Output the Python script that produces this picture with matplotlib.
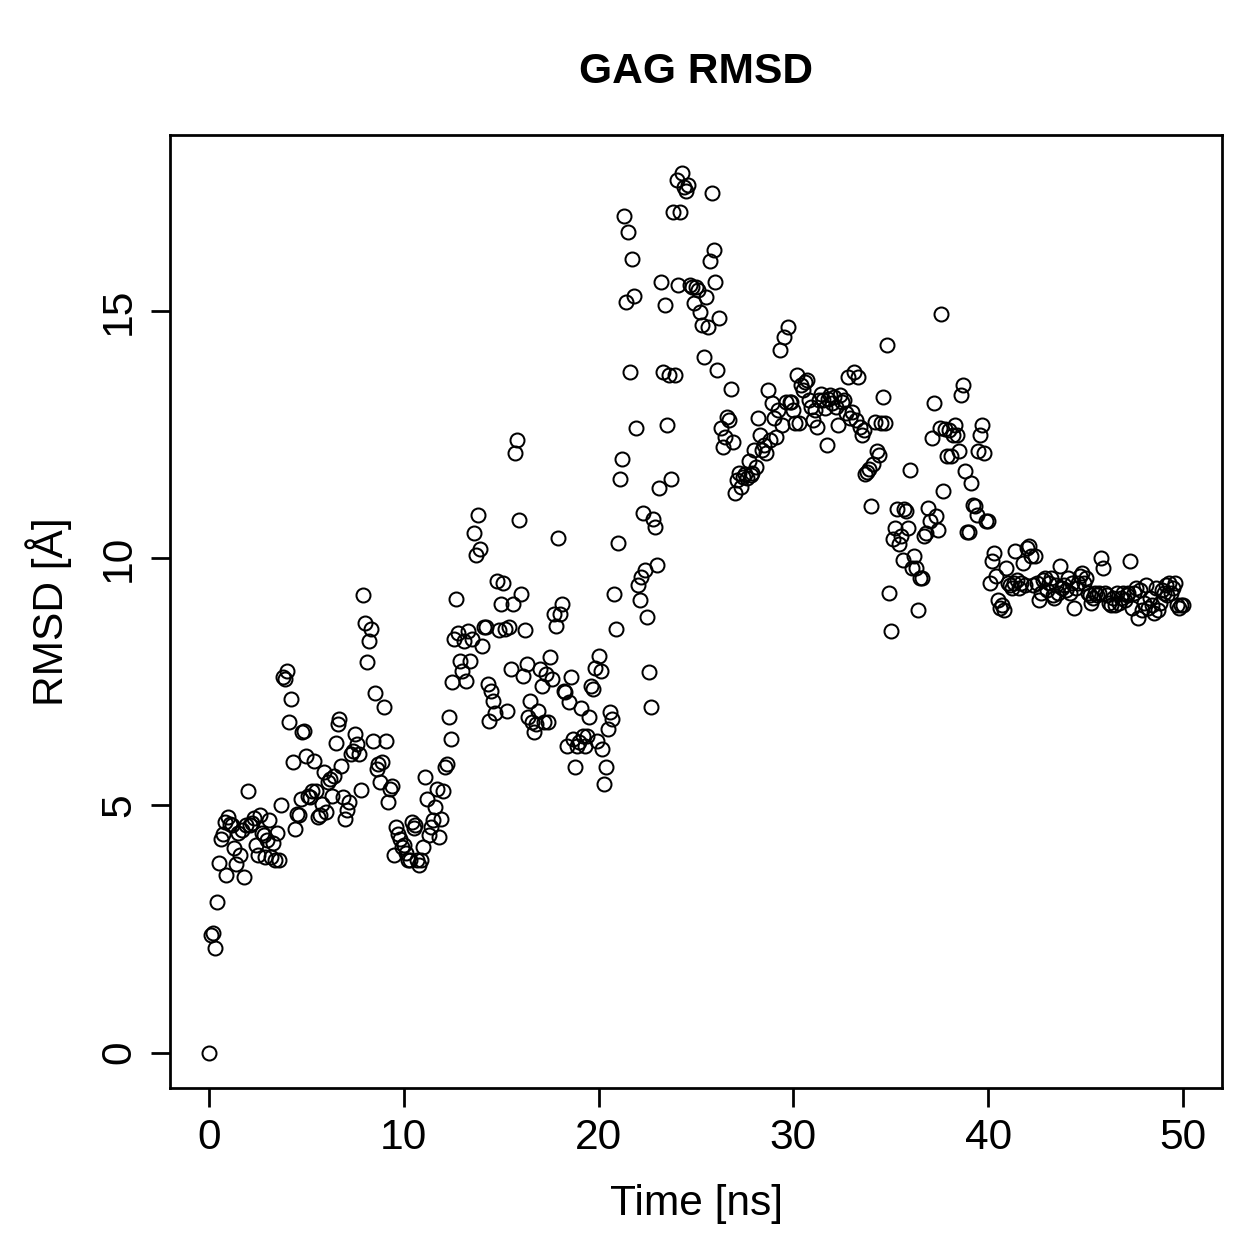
import matplotlib
matplotlib.use("Agg")
import matplotlib.pyplot as plt
import numpy as np

plt.rcParams['font.family'] = ['Liberation Sans', 'DejaVu Sans']

# RMSD values (Å), one every 0.1 ns
rmsd_00_05 = [0.00, 2.38, 2.42, 2.12, 3.05, 3.84, 4.33, 4.43, 4.66, 3.59,
              4.76, 4.63, 4.60, 4.13, 3.82, 4.45, 3.99, 4.50, 3.55, 4.60,
              5.30, 4.60, 4.65, 4.75, 4.20, 4.00, 4.80, 4.45, 4.40, 3.95,
              4.30, 4.70, 3.95, 4.25, 3.90, 4.45, 3.90, 5.00, 7.59, 7.56,
              7.72, 6.68, 7.15, 5.87, 4.53, 4.83, 4.80, 5.13, 6.48, 6.50]
rmsd_05_10 = [6.00, 5.20, 5.17, 5.30, 5.90, 5.30, 4.76, 4.80, 5.03, 5.67,
              4.86, 5.47, 5.54, 5.20, 5.60, 6.26, 6.65, 6.75, 5.80, 5.17,
              4.73, 4.90, 5.07, 6.04, 6.10, 6.45, 6.24, 6.05, 5.32, 9.25,
              8.70, 7.91, 8.33, 8.56, 6.30, 7.28, 5.74, 5.84, 5.47, 5.87,
              7.00, 6.30, 5.07, 5.34, 5.40, 3.99, 4.56, 4.43, 4.33, 4.16]
rmsd_10_15 = [4.20, 4.03, 3.90, 3.90, 4.66, 4.55, 4.60, 3.89, 3.79, 3.90,
              4.16, 5.57, 5.13, 4.40, 4.56, 4.70, 4.97, 5.34, 4.36, 4.73,
              5.30, 5.77, 5.84, 6.78, 6.34, 7.49, 8.36, 9.17, 8.49, 7.92,
              7.72, 8.33, 7.52, 8.53, 7.92, 8.36, 10.51, 10.07, 10.88, 10.18,
              8.23, 8.60, 8.60, 7.45, 6.71, 7.32, 7.12, 6.88, 9.54, 8.54]
rmsd_15_20 = [9.07, 9.50, 8.56, 6.92, 8.60, 7.76, 9.08, 12.12, 12.39, 10.78,
              9.28, 7.62, 8.54, 7.86, 6.78, 7.12, 6.68, 6.48, 6.65, 6.92,
              7.76, 7.42, 6.68, 7.66, 6.68, 8.00, 7.55, 8.88, 8.63, 10.41,
              8.88, 9.08, 7.32, 7.29, 6.21, 7.09, 7.59, 6.34, 5.77, 6.21,
              6.28, 6.98, 6.41, 6.21, 6.41, 6.78, 7.42, 7.36, 7.79, 6.31]
rmsd_20_25 = [8.03, 7.71, 6.14, 5.44, 5.77, 6.55, 6.90, 6.75, 9.27, 8.57,
              10.30, 11.60, 12.00, 16.92, 15.18, 16.60, 13.76, 16.06, 15.31, 12.64,
              9.45, 9.15, 9.62, 10.91, 9.76, 8.82, 7.70, 7.00, 10.80, 10.63,
              9.87, 11.42, 15.59, 13.76, 15.12, 12.69, 13.70, 11.60, 17.00, 13.70,
              17.64, 15.52, 17.00, 17.79, 17.50, 17.43, 17.54, 15.52, 15.48, 15.16]
rmsd_25_30 = [15.48, 15.42, 14.98, 14.72, 14.07, 15.28, 14.68, 16.02, 17.39, 16.24,
              15.58, 13.80, 14.86, 12.63, 12.26, 12.46, 12.86, 12.80, 13.43, 12.36,
              11.32, 11.59, 11.72, 11.45, 11.65, 11.70, 11.62, 11.96, 11.69, 11.72,
              12.19, 11.85, 12.83, 12.49, 12.19, 12.29, 12.12, 13.40, 12.39, 13.13,
              12.83, 12.46, 13.00, 14.21, 12.70, 14.48, 13.17, 14.68, 13.17, 13.17]
rmsd_30_35 = [13.00, 12.73, 13.70, 12.73, 13.50, 13.40, 13.57, 13.60, 13.20, 13.06,
              12.80, 13.00, 12.66, 13.20, 13.33, 13.20, 13.03, 12.29, 13.23, 13.30,
              13.13, 13.27, 13.06, 12.70, 13.30, 13.17, 13.20, 12.93, 13.67, 12.83,
              12.96, 13.77, 12.80, 13.67, 12.66, 12.50, 12.60, 11.70, 11.75, 11.80,
              11.05, 11.90, 12.76, 12.16, 12.09, 12.73, 13.27, 12.73, 14.31, 9.30]
rmsd_35_40 = [8.53, 10.38, 10.61, 11.00, 10.28, 10.44, 9.97, 11.00, 10.95, 10.61,
              11.79, 9.80, 10.04, 9.80, 8.95, 9.60, 9.60, 10.44, 10.51, 11.01,
              10.75, 12.43, 13.13, 10.85, 10.58, 12.63, 14.93, 11.35, 12.61, 12.06,
              12.59, 12.06, 12.49, 12.69, 12.50, 12.16, 13.31, 13.51, 11.77, 10.54,
              10.54, 11.52, 11.08, 11.05, 10.88, 12.16, 12.49, 12.69, 12.12, 10.75]
rmsd_40_45 = [10.75, 9.50, 9.95, 10.10, 9.65, 9.15, 9.00, 9.05, 8.95, 9.80,
              9.50, 9.45, 9.40, 9.50, 10.15, 9.55, 9.40, 9.50, 9.90, 9.45,
              10.20, 10.25, 10.05, 9.45, 10.05, 9.50, 9.15, 9.30, 9.55, 9.60,
              9.35, 9.50, 9.60, 9.25, 9.20, 9.45, 9.30, 9.85, 9.40, 9.45,
              9.35, 9.60, 9.30, 9.50, 9.00, 9.40, 9.50, 9.65, 9.70, 9.50]
rmsd_45_50 = [9.60, 9.30, 9.25, 9.10, 9.20, 9.30, 9.25, 9.30, 10.00, 9.80,
              9.30, 9.25, 9.10, 9.05, 9.20, 9.05, 9.30, 9.10, 9.20, 9.30,
              9.15, 9.25, 9.30, 9.95, 9.00, 9.30, 9.40, 8.80, 9.35, 8.95,
              9.10, 9.45, 9.00, 9.20, 9.05, 8.90, 9.40, 8.95, 9.10, 9.35,
              9.30, 9.45, 9.25, 9.50, 9.30, 9.40, 9.50, 9.05, 9.00, 9.05,
              9.05]

time_step_ns = 0.1
x_ticks = [0, 10, 20, 30, 40, 50]
y_ticks = [0, 5, 10, 15]
title = "GAG RMSD"
x_label = "Time [ns]"
y_label = "RMSD [Å]"

rmsd = np.array(rmsd_00_05 + rmsd_05_10 + rmsd_10_15 + rmsd_15_20 + rmsd_20_25 +
                rmsd_25_30 + rmsd_30_35 + rmsd_35_40 + rmsd_40_45 + rmsd_45_50)
time = np.arange(len(rmsd)) * time_step_ns

W = H = 1259
DPI = 180
fig = plt.figure(figsize=(W / DPI, H / DPI), dpi=DPI)
ax = fig.add_axes([170 / W, 1 - 1088 / H, (1222 - 170) / W, (1088 - 135) / H])

ax.plot(time, rmsd, linestyle='none', marker='o', markersize=5.6,
        markerfacecolor='none', markeredgecolor='black', markeredgewidth=0.8)

ax.set_xlim(-2, 52)
ax.set_ylim(-0.714, 18.56)
ax.set_xticks(x_ticks)
ax.set_yticks(y_ticks)
ax.set_xticklabels([str(v) for v in x_ticks])
ax.set_yticklabels([str(v) for v in y_ticks])

for s in ax.spines.values():
    s.set_linewidth(1.1)

FS = 17
ax.tick_params(direction='out', length=7.5, width=1.1, labelsize=FS)
ax.tick_params(axis='x', pad=17.0)
ax.tick_params(axis='y', pad=8.5)
for lab in ax.get_xticklabels():
    lab.set_va('baseline')
for lab in ax.get_yticklabels():
    lab.set_rotation(90)
    lab.set_rotation_mode('anchor')
    lab.set_ha('center')
    lab.set_va('baseline')

fig.text(696 / W, 1 - 83 / H, title, ha='center', va='baseline',
         fontsize=FS, fontweight='bold')
fig.text(696 / W, 1 - 1215 / H, x_label, ha='center', va='baseline', fontsize=FS)
fig.text(63 / W, 1 - 611.5 / H, y_label, rotation=90, rotation_mode='anchor',
         ha='center', va='baseline', fontsize=FS)

fig.savefig("out.png", dpi=DPI, facecolor='white')
